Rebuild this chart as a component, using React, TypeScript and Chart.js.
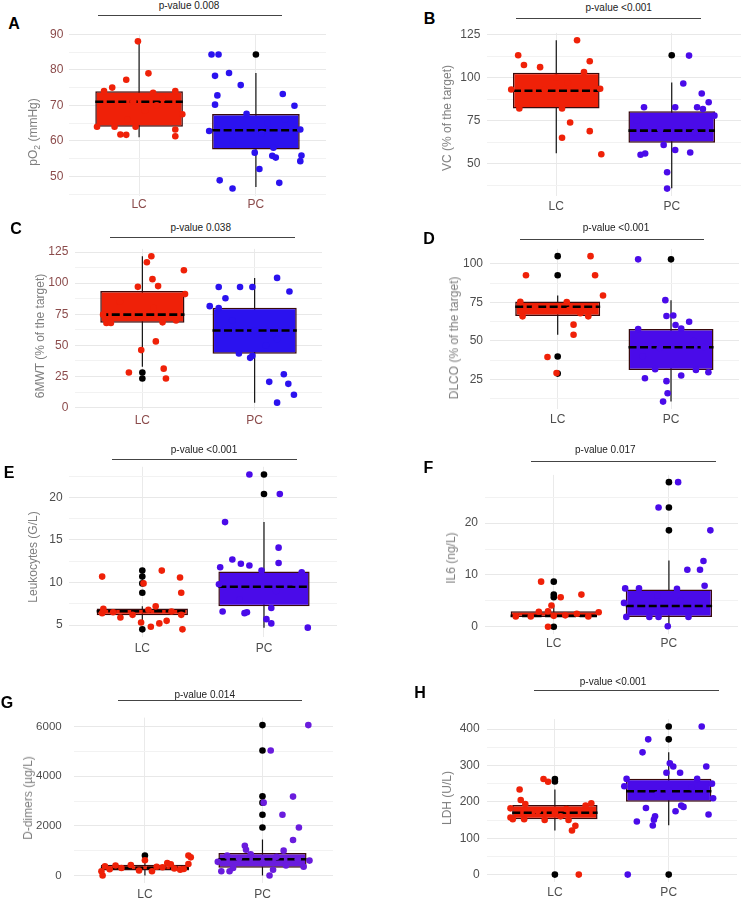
import React, { useEffect, useRef } from 'react';
import { Chart, registerables } from 'chart.js';
Chart.register(...registerables);

const GROUPS = ['LC', 'PC'];
const FONT = '"Liberation Sans", Arial, sans-serif';

// ---- Panel A: pO2 ----
const A_LC_BOX = [61, 64, 71, 74, 88];
const A_PC_BOX = [47, 57.6, 63, 67.6, 79.1];
const A_LC_OUT: number[] = [];
const A_PC_OUT = [84.3];
const A_LC_Y = [88, 79, 77.2, 75, 74, 74, 64, 64, 64, 61.8, 61.7, 63.2, 61.3, 67.5, 71, 70, 72, 66, 68.5, 73.5];
const A_LC_X = [-0.01, 0.08, -0.11, -0.23, -0.3, 0.31, -0.36, -0.21, -0.03, -0.16, -0.11, 0.31, 0.31, 0.37, -0.05, 0.15, 0.2, -0.1, 0.05, 0.12];
const A_PC_Y = [84.3, 84.3, 78.3, 79.1, 72.8, 70.2, 75.7, 73.2, 69.9, 62.8, 63.2, 56.7, 52.1, 55.8, 55.3, 55.9, 54.3, 48.2, 48.9, 46.6, 58.1, 67.6, 65, 60, 66, 62];
const A_PC_X = [-0.38, -0.32, -0.35, -0.23, -0.33, -0.35, -0.13, 0.23, 0.33, -0.4, 0.38, -0.01, 0.03, 0.14, 0.17, 0.39, 0.38, 0.2, -0.31, -0.2, 0.15, -0.08, 0.1, -0.2, 0.25, 0.05];
const A_MAJOR = [50, 60, 70, 80, 90];
const A_MINOR = [45, 55, 65, 75, 85];

// ---- Panel B: VC ----
const B_LC_BOX = [56.1, 82.1, 92.4, 102.9, 121.7];
const B_PC_BOX = [35.7, 62.1, 69.2, 80.5, 97.1];
const B_LC_OUT: number[] = [];
const B_PC_OUT = [113];
const B_LC_Y = [113, 107.3, 106.1, 121.7, 109.5, 103.2, 93.1, 93.5, 82.1, 82.1, 73.9, 65.1, 68.9, 55.5, 93, 97, 88, 85, 100];
const B_LC_X = [-0.33, -0.28, -0.14, 0.18, 0.29, 0.24, -0.39, 0.38, -0.32, 0.05, 0.12, 0.05, 0.29, 0.39, -0.1, 0.1, 0.2, -0.2, 0.0];
const B_PC_Y = [82.8, 55.2, 55.9, 45.0, 35.5, 60.9, 57.9, 96.6, 112.8, 56.5, 82.8, 90.8, 85.7, 82.8, 81.7, 77.9, 70, 65, 75, 68];
const B_PC_X = [-0.24, -0.27, -0.23, -0.04, -0.04, -0.07, 0.03, 0.1, 0.15, 0.16, 0.03, 0.26, 0.32, 0.22, 0.27, 0.37, -0.1, 0.1, -0.3, 0.2];
const B_MAJOR = [50, 75, 100, 125];
const B_MINOR = [37.5, 62.5, 87.5, 112.5];

// ---- Panel C: 6MWT ----
const C_LC_BOX = [32.9, 68.1, 74.7, 93.6, 121.6];
const C_PC_BOX = [4, 43.3, 61.9, 80.2, 104.2];
const C_LC_OUT = [28.2, 23.4];
const C_PC_OUT: number[] = [];
const C_LC_Y = [121.6, 116.8, 103.2, 97.6, 97, 110.3, 91.2, 68, 68, 68.5, 53.2, 46.2, 28.2, 31.3, 23.4, 74.7, 80, 85, 70];
const C_LC_X = [0.08, 0.04, 0.09, 0.14, -0.04, 0.37, 0.38, -0.32, -0.28, 0.18, 0.12, -0.01, -0.12, 0.19, 0.21, -0.35, 0.1, -0.2, 0.3];
const C_PC_Y = [81.5, 79.9, 96.9, 87.9, 96.9, 96.9, 104.2, 93.3, 43.5, 40, 41.6, 20.7, 26.8, 19.1, 10.4, 4, 62, 55, 70, 50];
const C_PC_X = [-0.4, -0.32, -0.32, -0.26, -0.13, -0.02, 0.2, 0.31, -0.14, -0.04, -0.02, 0.13, 0.26, 0.3, 0.35, 0.2, 0.0, 0.2, -0.2, 0.1];
const C_MAJOR = [0, 25, 50, 75, 100, 125];
const C_MINOR = [12.5, 37.5, 62.5, 87.5, 112.5];

// ---- Panel D: DLCO ----
const D_LC_BOX = [54, 66.2, 72.2, 75.6, 79.5];
const D_PC_BOX = [10.6, 31.2, 45.9, 57.7, 76.5];
const D_LC_OUT = [105.1, 92.7, 39.9, 28.8];
const D_PC_OUT = [103];
const D_LC_Y = [92.7, 105.1, 92.7, 79.5, 75.4, 60.6, 54, 39.6, 29.2, 66, 66, 75.3, 72, 70, 68];
const D_LC_X = [-0.28, 0.29, 0.33, 0.4, -0.33, 0.14, 0.14, -0.09, -0.01, -0.31, 0.27, 0.08, -0.2, 0.1, 0.2];
const D_PC_Y = [103, 76.5, 66.2, 66.5, 60.4, 62.5, 57.7, 31.7, 25.8, 23.9, 16, 10.6, 27.6, 29.7, 31.2, 46, 45.3, 58, 50, 40, 35];
const D_PC_X = [-0.29, -0.05, -0.04, 0.02, 0.04, 0.16, -0.29, -0.14, -0.23, -0.04, -0.03, -0.07, 0.09, 0.33, 0.22, 0.29, -0.1, 0.09, 0.2, -0.25, 0.05];
const D_MAJOR = [25, 50, 75, 100];
const D_MINOR = [12.5, 37.5, 62.5, 87.5];

// ---- Panel E: Leukocytes ----
const E_LC_BOX = [5.1, 6.16, 6.63, 6.94, 7.2];
const E_PC_BOX = [4.7, 7.2, 9.5, 11.3, 17.1];
const E_LC_OUT = [11.4, 10.7, 9.9, 8.8, 4.5];
const E_PC_OUT = [22.7, 20.4];
const E_LC_Y = [10.7, 11.4, 10.6, 8.8, 9.9, 7.2, 5.9, 5.3, 4.8, 5.2, 5.5, 4.5, 6.4, 6.9, 6.5, 6.2, 6.6, 6.2, 6.8];
const E_LC_X = [-0.33, 0.16, 0.31, 0.32, 0.01, 0.11, -0.18, -0.01, 0.07, 0.14, 0.2, 0.33, -0.33, -0.32, -0.24, -0.08, 0.24, 0.32, 0.05];
const E_PC_Y = [22.7, 20.4, 17.1, 14.1, 12.3, 12.7, 12.2, 12.0, 11.8, 6.6, 6.4, 6.5, 5.7, 5.2, 4.7, 7.0, 9.8, 11.4, 11.2, 9, 8, 10];
const E_PC_X = [-0.12, 0.13, -0.32, 0.12, 0.12, -0.26, -0.19, -0.12, -0.36, -0.34, -0.16, -0.14, 0.02, 0.06, 0.36, 0.06, -0.37, -0.02, 0.31, 0.1, -0.2, 0.25];
const E_MAJOR = [5, 10, 15, 20];
const E_MINOR = [7.5, 12.5, 17.5, 22.5];

// ---- Panel F: IL6 ----
const F_LC_BOX = [1.9, 1.9, 2.1, 3.0, 4.1];
const F_PC_BOX = [0, 1.9, 4.0, 7.2, 12.8];
const F_LC_OUT = [8.7, 6.2, 5.7, 0];
const F_PC_OUT = [27.9, 23.0, 18.6];
const F_LC_Y = [8.7, 5.7, 6.2, 4.1, 0, 2.9, 2.8, 2.0, 2.0, 2.2, 2.5, 3.0, 2.0, 2.1];
const F_LC_X = [-0.11, 0.06, 0.24, -0.02, -0.05, -0.13, 0.39, -0.33, -0.2, 0.1, 0.2, -0.05, 0.3, 0.0];
const F_PC_Y = [27.9, 23.0, 18.6, 11.0, 11.0, 12.7, 7.9, 0.1, 4.6, 7.4, 7.4, 1.9, 1.9, 1.9, 1.9, 7.3, 5, 3, 6];
const F_PC_X = [0.08, -0.09, 0.36, 0.16, 0.27, 0.3, 0.31, -0.01, -0.39, -0.38, -0.26, -0.37, -0.17, -0.09, 0.17, 0.07, 0.1, 0.25, -0.1];
const F_MAJOR = [0, 10, 20];
const F_MINOR = [5, 15, 25];

// ---- Panel G: D-dimers ----
const G_LC_BOX = [0, 205, 308, 435, 730];
const G_PC_BOX = [0, 308, 654, 908, 1446];
const G_LC_OUT = [808];
const G_PC_OUT = [6060, 5040, 3192, 2935, 2446, 1935];
const G_LC_Y = [0, 170, 375, 808, 730, 460, 615, 170, 500, 420, 250, 300, 350, 200, 280, 450, 330, 230, 400, 260];
const G_LC_X = [-0.36, -0.37, -0.34, 0.37, 0.39, 0.37, 0.0, 0.06, 0.19, -0.12, -0.3, -0.2, 0.1, -0.05, 0.25, 0.22, 0.15, 0.3, -0.25, 0.33];
const G_PC_Y = [6060, 5040, 3180, 2935, 2446, 1935, 1432, 1200, 1040, 1000, 170, 170, 0, 230, 600, 800, 700, 500, 400, 650, 850, 350, 750, 550, 300];
const G_PC_X = [0.39, 0.07, 0.26, 0.01, 0.17, 0.31, 0.26, -0.15, -0.14, 0.18, -0.35, -0.28, 0.06, 0.09, 0.4, -0.3, -0.2, 0.0, 0.2, 0.3, -0.1, 0.35, 0.12, -0.38, -0.25];
const G_MAJOR = [0, 2000, 4000, 6000];
const G_MINOR = [1000, 3000, 5000];

// ---- Panel H: LDH ----
const H_LC_BOX = [121, 152, 170, 191, 234];
const H_PC_BOX = [135.5, 200, 229, 263.6, 336];
const H_LC_OUT = [262.6, 256, 0];
const H_PC_OUT = [407, 371.7, 0];
const H_LC_Y = [262.6, 255, 234, 205, 194, 182, 157, 152, 152, 150, 150, 121, 134, 0, 196, 190, 170, 180, 160, 175];
const H_LC_X = [-0.1, -0.06, -0.31, -0.3, -0.26, -0.39, -0.39, -0.37, -0.27, -0.09, 0.12, 0.15, 0.18, 0.21, 0.32, 0.27, 0.0, 0.1, 0.05, -0.15];
const H_PC_Y = [407, 371.7, 336, 0, 263, 243, 183, 146, 135, 151, 160, 280, 306, 297, 280, 174, 190, 186, 297, 165, 250, 210, 263, 230, 220, 240];
const H_PC_X = [0.29, -0.18, -0.23, -0.36, -0.37, -0.39, -0.2, -0.28, -0.14, -0.13, -0.12, -0.02, 0.01, 0.04, 0.1, 0.06, 0.11, 0.13, 0.33, 0.35, 0.38, 0.39, 0.25, 0.0, -0.1, 0.2];
const H_MAJOR = [0, 100, 200, 300, 400];
const H_MINOR = [50, 150, 250, 350];

// ---- styles ----
const RED = '#EF2108';
const BLUE = '#2B12EF';
const VIOLET = '#4A0BE9';
const PURPLE = '#6A1CDD';
const BROWN = '#8B4B4B';
const GREY = '#4D4D4D';

type PanelDef = {
  letter: string; pval: string; title: React.ReactNode;
  lcBox: number[]; pcBox: number[]; lcOut: number[]; pcOut: number[];
  lcY: number[]; lcX: number[]; pcY: number[]; pcX: number[];
  major: number[]; minor: number[]; yMin: number; yMax: number;
  pcColor: string; tickColor: string; yFont: number;
  left: number; right: number; top: number; bottom: number; yPad: number; xPad: number;
  letterPos: [number, number]; pPos: [number, number]; line: [number, number, number]; titlePos: [number, number];
};

const PANELS: PanelDef[] = [
  { letter: 'A', pval: 'p-value 0.008', title: <span>pO<sub style={{ fontSize: '0.72em', verticalAlign: '-0.3em', lineHeight: 0 }}>2</sub> (mmHg)</span>,
    lcBox: A_LC_BOX, pcBox: A_PC_BOX, lcOut: A_LC_OUT, pcOut: A_PC_OUT, lcY: A_LC_Y, lcX: A_LC_X, pcY: A_PC_Y, pcX: A_PC_X,
    major: A_MAJOR, minor: A_MINOR, yMin: 44.5, yMax: 90.1, pcColor: BLUE, tickColor: BROWN, yFont: 12,
    left: 69, right: 326, top: 33, bottom: 195.7, yPad: 5.7, xPad: 1,
    letterPos: [14, 24], pPos: [189, 5.5], line: [98, 282, 15.7], titlePos: [33.3, 132] },
  { letter: 'B', pval: 'p-value <0.001', title: 'VC (% of the target)',
    lcBox: B_LC_BOX, pcBox: B_PC_BOX, lcOut: B_LC_OUT, pcOut: B_PC_OUT, lcY: B_LC_Y, lcX: B_LC_X, pcY: B_PC_Y, pcX: B_PC_X,
    major: B_MAJOR, minor: B_MINOR, yMin: 31.2, yMax: 126, pcColor: VIOLET, tickColor: GREY, yFont: 12,
    left: 487, right: 741, top: 30.6, bottom: 196.2, yPad: 6.7, xPad: 3,
    letterPos: [429.5, 18.5], pPos: [618.7, 8.3], line: [516, 701, 18.3], titlePos: [447, 118] },
  { letter: 'C', pval: 'p-value 0.038', title: '6MWT (% of the target)',
    lcBox: C_LC_BOX, pcBox: C_PC_BOX, lcOut: C_LC_OUT, pcOut: C_PC_OUT, lcY: C_LC_Y, lcX: C_LC_X, pcY: C_PC_Y, pcX: C_PC_X,
    major: C_MAJOR, minor: C_MINOR, yMin: -1.9, yMax: 127.5, pcColor: BLUE, tickColor: BROWN, yFont: 12,
    left: 75, right: 322, top: 247.4, bottom: 410.1, yPad: 6.7, xPad: 3.4,
    letterPos: [16, 229], pPos: [200.7, 227.7], line: [110, 294.7, 237.3], titlePos: [40, 335.5] },
  { letter: 'D', pval: 'p-value <0.001', title: 'DLCO (% of the target)',
    lcBox: D_LC_BOX, pcBox: D_PC_BOX, lcOut: D_LC_OUT, pcOut: D_PC_OUT, lcY: D_LC_Y, lcX: D_LC_X, pcY: D_PC_Y, pcX: D_PC_X,
    major: D_MAJOR, minor: D_MINOR, yMin: 5.8, yMax: 109.8, pcColor: VIOLET, tickColor: GREY, yFont: 12,
    left: 489.7, right: 739, top: 247, bottom: 409.3, yPad: 6.7, xPad: 3.1,
    letterPos: [429, 239], pPos: [616, 227.7], line: [519.7, 704.3, 239.3], titlePos: [453.7, 337.5] },
  { letter: 'E', pval: 'p-value <0.001', title: 'Leukocytes (G/L)',
    lcBox: E_LC_BOX, pcBox: E_PC_BOX, lcOut: E_LC_OUT, pcOut: E_PC_OUT, lcY: E_LC_Y, lcX: E_LC_X, pcY: E_PC_Y, pcX: E_PC_X,
    major: E_MAJOR, minor: E_MINOR, yMin: 3.6, yMax: 23.6, pcColor: VIOLET, tickColor: GREY, yFont: 12,
    left: 69.3, right: 337, top: 465, bottom: 637, yPad: 6.6, xPad: 4.7,
    letterPos: [9, 472.5], pPos: [204, 450], line: [112.3, 296.7, 459.3], titlePos: [33.3, 556.7] },
  { letter: 'F', pval: 'p-value 0.017', title: 'IL6 (ng/L)',
    lcBox: F_LC_BOX, pcBox: F_PC_BOX, lcOut: F_LC_OUT, pcOut: F_PC_OUT, lcY: F_LC_Y, lcX: F_LC_X, pcY: F_PC_Y, pcX: F_PC_X,
    major: F_MAJOR, minor: F_MINOR, yMin: -1.4, yMax: 29.3, pcColor: VIOLET, tickColor: GREY, yFont: 12,
    left: 484.7, right: 737.7, top: 473.4, bottom: 634, yPad: 6.7, xPad: 2.7,
    letterPos: [428.5, 468], pPos: [605.3, 450], line: [531, 716, 461], titlePos: [451.3, 557.5] },
  { letter: 'G', pval: 'p-value 0.014', title: 'D-dimers (µg/L)',
    lcBox: G_LC_BOX, pcBox: G_PC_BOX, lcOut: G_LC_OUT, pcOut: G_PC_OUT, lcY: G_LC_Y, lcX: G_LC_X, pcY: G_PC_Y, pcX: G_PC_X,
    major: G_MAJOR, minor: G_MINOR, yMin: -303, yMax: 6363, pcColor: PURPLE, tickColor: GREY, yFont: 11.5,
    left: 74.4, right: 333.3, top: 709.9, bottom: 883.2, yPad: 12.7, xPad: 4.4,
    letterPos: [7, 702.5], pPos: [204.7, 694.5], line: [117.7, 302, 700], titlePos: [28.3, 798] },
  { letter: 'H', pval: 'p-value <0.001', title: 'LDH (U/L)',
    lcBox: H_LC_BOX, pcBox: H_PC_BOX, lcOut: H_LC_OUT, pcOut: H_PC_OUT, lcY: H_LC_Y, lcX: H_LC_X, pcY: H_PC_Y, pcX: H_PC_X,
    major: H_MAJOR, minor: H_MINOR, yMin: -20.4, yMax: 427.4, pcColor: VIOLET, tickColor: GREY, yFont: 12,
    left: 486.6, right: 737.4, top: 717.3, bottom: 881.5, yPad: 6.9, xPad: 3.6,
    letterPos: [420, 692.5], pPos: [613, 681.7], line: [534.3, 718.7, 690], titlePos: [447, 797.5] },
];

const YW = 44;
const PT = 12;
const XH = 24;
const PR = 4;
const HALF = 0.375;

function Panel({ p }: { p: PanelDef }) {
  const ref = useRef<HTMLCanvasElement>(null);
  const cLeft = Math.round(p.left - YW);
  const cTop = Math.round(p.top - PT);
  const areaW = p.right - p.left;
  const areaH = p.bottom - p.top;
  const width = Math.round(p.left - YW - cLeft + YW + areaW + PR);
  const height = Math.round(p.top - cTop + areaH + XH);
  const padTop = p.top - cTop;
  const padLeft = p.left - YW - cLeft;

  useEffect(() => {
    if (!ref.current) return;
    const allTicks = [...p.major, ...p.minor].sort((a, b) => a - b);
    const whisker = (x: number, b: number[]) => ({
      type: 'line', data: [{ x, y: b[0] }, { x, y: b[4] }], borderColor: '#111', borderWidth: 1.2,
      pointRadius: 0, order: 6,
    });
    const median = (x: number, b: number[]) => ({
      type: 'line', data: [{ x: x - HALF, y: b[2] }, { x: x + HALF, y: b[2] }], borderColor: '#000', borderWidth: 2.6,
      borderDash: [8, 3.5], pointRadius: 0, order: 4,
    });
    const pts = (x: number, ys: number[], xs: number[], color: string, order: number) => ({
      type: 'scatter', data: ys.map((v, i) => ({ x: x + xs[i], y: v })), backgroundColor: color,
      borderWidth: 0, pointRadius: 3.3, pointHoverRadius: 3.3, order,
    });
    const outs = (x: number, ys: number[]) => ({
      type: 'scatter', data: ys.map((v) => ({ x, y: v })), backgroundColor: '#000',
      borderWidth: 0, pointRadius: 3.3, order: 3,
    });
    const chart = new Chart(ref.current, {
      type: 'bar',
      data: {
        datasets: [
          whisker(1, p.lcBox) as any,
          whisker(2, p.pcBox) as any,
          {
            type: 'bar',
            data: [{ x: 1, y: [p.lcBox[1], p.lcBox[3]] }, { x: 2, y: [p.pcBox[1], p.pcBox[3]] }],
            backgroundColor: [RED, p.pcColor], borderColor: '#3A0A0C', borderWidth: 1.5, borderSkipped: false,
            categoryPercentage: 1, barPercentage: 0.75, order: 5,
          } as any,
          median(1, p.lcBox) as any,
          median(2, p.pcBox) as any,
          outs(1, p.lcOut) as any,
          outs(2, p.pcOut) as any,
          pts(1, p.lcY, p.lcX, RED, 2) as any,
          pts(2, p.pcY, p.pcX, p.pcColor, 1) as any,
        ],
      },
      options: {
        responsive: false,
        animation: false,
        events: [],
        layout: { padding: { top: padTop, left: padLeft, right: PR, bottom: 0 } },
        plugins: { legend: { display: false }, tooltip: { enabled: false }, title: { display: false } },
        scales: {
          x: {
            type: 'linear', min: 0.4, max: 2.6, offset: false,
            afterBuildTicks: (s: any) => { s.ticks = [{ value: 1 }, { value: 2 }]; },
            afterFit: (s: any) => { s.height = XH; },
            ticks: {
              callback: (v: any) => (v === 1 ? GROUPS[0] : v === 2 ? GROUPS[1] : ''),
              color: p.tickColor, font: { family: FONT, size: 12 }, padding: p.xPad,
              autoSkip: false, maxRotation: 0, minRotation: 0,
            },
            grid: { color: '#EAEAEA', lineWidth: 1, drawTicks: false, offset: false },
            border: { display: false },
          },
          y: {
            type: 'linear', min: p.yMin, max: p.yMax,
            afterBuildTicks: (s: any) => { s.ticks = allTicks.map((v) => ({ value: v })); },
            afterFit: (s: any) => { s.width = YW; },
            ticks: {
              callback: (v: any) => (p.major.includes(v) ? String(v) : ''),
              color: p.tickColor, font: { family: FONT, size: p.yFont }, padding: p.yPad, autoSkip: false,
            },
            grid: {
              color: (ctx: any) => (ctx.tick && p.major.includes(ctx.tick.value) ? '#E8E8E8' : '#F2F2F2'),
              lineWidth: 1, drawTicks: false,
            },
            border: { display: false },
          },
        },
      } as any,
    });
    return () => chart.destroy();
  }, []);

  return (
    <>
      <canvas ref={ref} width={width} height={height}
        style={{ position: 'absolute', left: cLeft, top: cTop, width, height }} />
      <div style={{ position: 'absolute', left: p.letterPos[0], top: p.letterPos[1], transform: 'translate(-50%,-50%)',
        font: `bold 16px ${FONT}`, lineHeight: '1', color: '#000' }}>{p.letter}</div>
      <div style={{ position: 'absolute', left: p.pPos[0], top: p.pPos[1], transform: 'translate(-50%,-50%)',
        font: `10px ${FONT}`, lineHeight: '1', color: '#222', whiteSpace: 'nowrap' }}>{p.pval}</div>
      <div style={{ position: 'absolute', left: p.line[0], top: p.line[2] - 0.5, width: p.line[1] - p.line[0],
        height: 0, borderTop: '1px solid #444' }} />
      <div style={{ position: 'absolute', left: p.titlePos[0], top: p.titlePos[1],
        transform: 'translate(-50%,-50%) rotate(-90deg)', font: `12px ${FONT}`, lineHeight: '1',
        color: '#7F7F7F', whiteSpace: 'nowrap' }}>{p.title}</div>
    </>
  );
}

export default function App() {
  return (
    <div style={{ position: 'absolute', left: 0, top: 0, width: 744, height: 901, background: '#fff', overflow: 'hidden' }}>
      {PANELS.map((p) => <Panel key={p.letter} p={p} />)}
    </div>
  );
}
